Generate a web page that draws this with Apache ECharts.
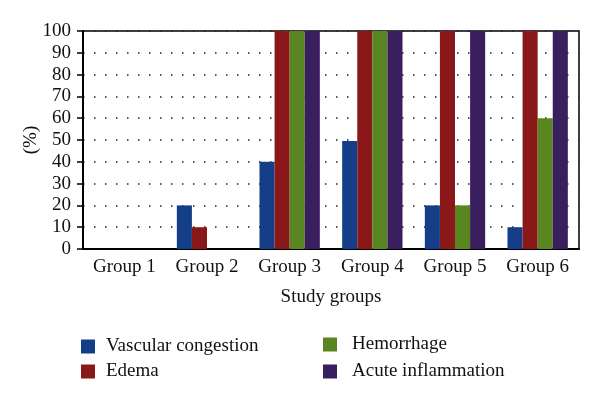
<!DOCTYPE html>
<html><head><meta charset="utf-8">
<script src="https://cdn.jsdelivr.net/npm/echarts@6/dist/echarts.min.js"></script>
<style>html,body{margin:0;padding:0;background:#fff}#c{width:600px;height:405px}</style>
</head><body><div id="c"></div>
<script>
const categories = ['Group 1','Group 2','Group 3','Group 4','Group 5','Group 6'];
const seriesNames = ['Vascular congestion','Edema','Hemorrhage','Acute inflammation'];
const vascular = [0, 20, 40, 49.5, 20, 10];
const edema = [0, 10, 100, 100, 100, 100];
const hemorrhage = [0, 0, 100, 100, 20, 60];
const acute = [0, 0, 100, 100, 100, 100];
const colors = ['#153e88','#8b1818','#5a8621','#3a1f5e'];
const yTicks = [0,10,20,30,40,50,60,70,80,90,100];

const font = 'Liberation Serif';
const fs = 19;
const chart = echarts.init(document.getElementById('c'));
const data = [vascular, edema, hemorrhage, acute];
chart.setOption({
  animation: false,
  color: colors,
  textStyle: {fontFamily: font},
  grid: {left: 83, right: 21, top: 31, bottom: 156, show: true, borderColor: '#000', borderWidth: 1.5, backgroundColor: 'transparent'},
  legend: [
    {data: [seriesNames[0], seriesNames[1]], orient: 'vertical', left: 81, top: 337, padding: 0, icon: 'rect', itemWidth: 14, itemHeight: 14, itemGap: 6,
     textStyle: {fontFamily: font, fontSize: fs, color: '#111', padding: [0,0,0,6]}},
    {data: [seriesNames[2], seriesNames[3]], orient: 'vertical', left: 323, top: 335, padding: 0, icon: 'rect', itemWidth: 14, itemHeight: 14, itemGap: 8,
     textStyle: {fontFamily: font, fontSize: fs, color: '#111', padding: [0,0,0,10]}}
  ],
  xAxis: {
    type: 'category', data: categories,
    name: 'Study groups', nameLocation: 'middle', nameGap: 39,
    nameTextStyle: {fontFamily: font, fontSize: fs, color: '#111'},
    axisLine: {lineStyle: {color: '#000', width: 2}},
    axisTick: {show: false},
    axisLabel: {fontFamily: font, fontSize: fs, color: '#111', margin: 9}
  },
  yAxis: {
    type: 'value', min: yTicks[0], max: yTicks[yTicks.length-1], interval: 10,
    name: '(%)', nameLocation: 'middle', nameGap: 42, nameRotate: 90, nameMoveOverlap: false,
    nameTextStyle: {fontFamily: font, fontSize: fs, color: '#111'},
    axisLine: {show: true, lineStyle: {color: '#000', width: 2}},
    axisTick: {show: true, inside: false, length: 6, lineStyle: {color: '#000', width: 1.5}},
    axisLabel: {fontFamily: font, fontSize: fs, color: '#111', margin: 12},
    splitLine: {show: true, lineStyle: {color: '#222', type: [1.5, 9.5], width: 1.5}}
  },
  series: seriesNames.map((n, i) => ({
    name: n, type: 'bar', data: data[i], barGap: '0%', barCategoryGap: '27%',
    itemStyle: {color: colors[i]}
  }))
});
</script></body></html>
